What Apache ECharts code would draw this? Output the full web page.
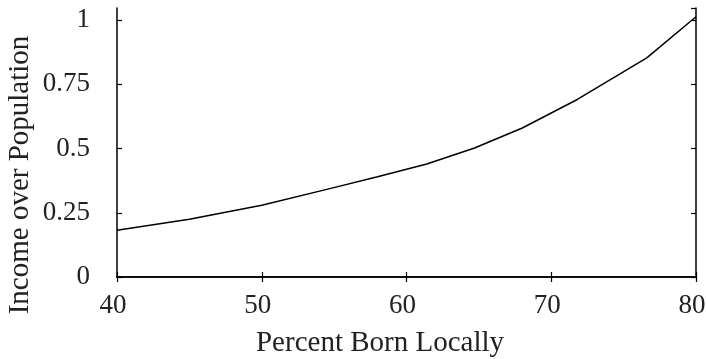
<!DOCTYPE html>
<html>
<head>
<meta charset="utf-8">
<script src="https://cdn.jsdelivr.net/npm/echarts@6/dist/echarts.min.js"></script>
<style>html,body{margin:0;padding:0;background:#fff}#c{width:707px;height:359px}</style>
</head>
<body>
<div id="c"></div>
<script>
const xValues = [40, 45, 50, 54.7, 58, 61.4, 64.7, 68, 71.8, 76.6, 80];
const yValues = [0.182, 0.225, 0.279, 0.344, 0.39, 0.44, 0.502, 0.58, 0.691, 0.853, 1.013];
const xTitle = 'Percent Born Locally';
const yTitle = 'Income over Population';

const font = 'Liberation Serif';
const txt = '#222';
const axisCommon = {
  axisLine: {show: true, lineStyle: {color: '#000', width: 1.5}},
  axisTick: {show: true, inside: true, length: 5, lineStyle: {color: '#000', width: 1.2}},
  splitLine: {show: false}
};
const chart = echarts.init(document.getElementById('c'), null, {renderer: 'canvas'});
chart.setOption({
  animation: false,
  backgroundColor: '#fff',
  grid: {left: 117, right: 11, top: 8, bottom: 82, containLabel: false, outerBoundsMode: 'none'},
  xAxis: [
    Object.assign({type: 'value', min: 40, max: 80, interval: 10, position: 'bottom',
      axisLabel: {fontFamily: font, fontSize: 27, color: txt, margin: 15, padding: [0, 8, 0, 0], hideOverlap: false}}, axisCommon),
    Object.assign({type: 'value', min: 40, max: 80, interval: 10, position: 'top',
      axisLabel: {show: false}}, axisCommon)
  ],
  yAxis: [
    Object.assign({type: 'value', min: 0, max: 1.047, interval: 0.25, position: 'left',
      axisLabel: {fontFamily: font, fontSize: 27, color: txt, margin: 27, showMaxLabel: false,
        formatter: v => (Math.abs(v - 1.047) < 1e-6 ? '' : String(v))}}, axisCommon),
    Object.assign({type: 'value', min: 0, max: 1.047, interval: 0.25, position: 'right',
      axisLabel: {show: false}}, axisCommon)
  ],
  series: [{
    type: 'line',
    data: xValues.map((x, i) => [x, yValues[i]]),
    showSymbol: false,
    symbol: 'none',
    lineStyle: {color: '#000', width: 1.5},
    xAxisIndex: 0, yAxisIndex: 0
  }],
  graphic: [
    {type: 'text', x: 380, y: 343, style: {text: xTitle, font: '29px "Liberation Serif"', fill: txt, align: 'center', verticalAlign: 'middle'}},
    {type: 'text', x: 20, y: 175, rotation: Math.PI / 2, style: {text: yTitle, font: '29px "Liberation Serif"', fill: txt, align: 'center', verticalAlign: 'middle'}}
  ]
});
</script>
</body>
</html>
